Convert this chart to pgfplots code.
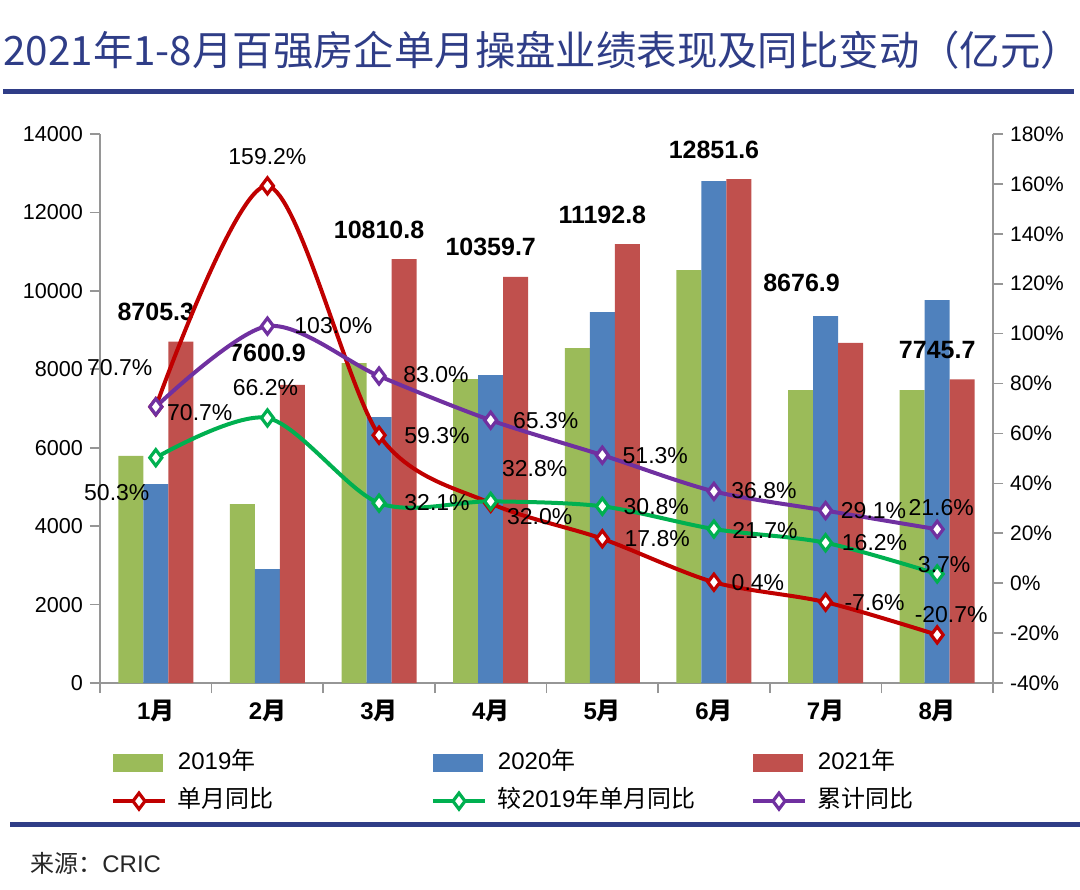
\documentclass[border=0pt]{standalone}
\usepackage{fontspec}
\setmainfont{Liberation Sans}
\newfontfamily\cjk{Noto Sans CJK SC}
\usepackage{pgfplots}
\pgfplotsset{compat=1.18}
\usepackage{pgfplotstable}

\definecolor{cG}{RGB}{155,187,89}
\definecolor{cB}{RGB}{79,129,189}
\definecolor{cR}{RGB}{192,80,77}
\definecolor{lR}{RGB}{192,0,0}
\definecolor{lG}{RGB}{0,176,80}
\definecolor{lP}{RGB}{112,48,160}
\definecolor{tB}{RGB}{47,61,135}
\definecolor{axg}{RGB}{150,150,150}

\newcommand\yue{{\cjk 月}}
\newcommand\nian{{\cjk 年}}

\pgfplotsset{
  linelegend/.style={legend image code/.code={\draw[mark repeat=2,mark phase=2,##1] plot coordinates {(0pt,0pt) (13pt,0pt) (26pt,0pt)};}},
  /pgf/number format/assume math mode=true,
}

\pgfplotstableread{
x y
1 5790
2 4565
3 8160
4 7752
5 8543
6 10532
7 7472
8 7472
}\tGreen
\pgfplotstableread{
x y
1 5075
2 2907
3 6783
4 7854
5 9461
6 12801
7 9359
8 9767
}\tBlue
\pgfplotstableread{
x y dx dy
1 8705.3 0 15
2 7600.9 0 16
3 10810.8 0 14.5
4 10359.7 0 15
5 11192.8 0 14.5
6 12851.6 0 14.5
7 8676.9 -12 30
8 7745.7 0 14.5
}\tRed
\pgfplotstableread{
x y dx dy
1 70.7 -18 19.5
2 159.2 0 14.5
3 59.3 29 0
4 32.0 24.5 -6.5
5 17.8 27.5 0
6 0.4 22 0
7 -7.6 24.5 0
8 -20.7 7 10
}\lRed
\pgfplotstableread{
x y dx dy
1 50.3 -19.5 -17.5
2 66.2 -1 15
3 32.1 29 0.5
4 32.8 22 16.5
5 30.8 27 0
6 21.7 25.5 -0.5
7 16.2 24.5 0
8 3.7 3.5 4.5
}\lGreen
\pgfplotstableread{
x y dx dy
1 70.7 22 -3
2 103.0 33 0.5
3 83.0 28.5 0.5
4 65.3 27.5 0
5 51.3 26.5 0
6 36.8 25 0.5
7 29.1 24 0
8 21.6 2 11
}\lPurple

\begin{document}
\begin{tikzpicture}
\path[use as bounding box] (0,0) rectangle (540pt,-444.5pt);

% title and rules
\node[anchor=west, text=tB, font=\cjk\fontsize{20.2}{23}\selectfont, inner sep=0pt] at (1.5pt,-25pt) {2021年1-8月百强房企单月操盘业绩表现及同比变动（亿元）};
\draw[tB, line width=2.5pt] (1.5pt,-45.5pt) -- (537pt,-45.5pt);
\draw[tB, line width=2.5pt] (5pt,-412pt) -- (540pt,-412pt);
\node[anchor=west, text=black!85, font=\fontsize{12}{14}\selectfont, inner sep=0pt] at (15pt,-431.5pt) {{\cjk 来源：}CRIC};

\begin{axis}[
  at={(50pt,-341.5pt)}, anchor=south west, scale only axis,
  width=446.5pt, height=274.5pt,
  xmin=0.5, xmax=8.5, ymin=0, ymax=14000,
  axis x line*=bottom, axis y line*=left,
  axis line style={-, axg, line width=0.8pt},
  clip=false,
  tick align=outside, major tick length=5pt, minor tick length=5pt,
  xtick={1,...,8},
  xticklabels={1\yue,2\yue,3\yue,4\yue,5\yue,6\yue,7\yue,8\yue},
  minor xtick={0.5,1.5,...,8.5},
  major x tick style={draw=none},
  minor x tick style={axg, line width=0.8pt},
  y tick style={axg, line width=0.8pt},
  ytick={0,2000,...,14000},
  scaled y ticks=false,
  y tick label style={font=\fontsize{10.8}{12}\selectfont, /pgf/number format/1000 sep={}},
  x tick label style={font=\bfseries\fontsize{12}{14}\selectfont},
  legend columns=3,
  legend cell align=left,
  legend style={at={(0.0123,-0.125)}, anchor=north west, draw=none, fill=none,
    inner sep=0pt, outer sep=0pt, font=\fontsize{12}{14}\selectfont, row sep=7.5pt,
    nodes={inner sep=0pt, text width=126.5pt, align=left, text height=9pt, text depth=2.5pt},
    /tikz/every odd column/.append style={column sep=5.5pt}},
]
\addplot[ybar, bar width=12.5pt, bar shift=-12.5pt, fill=cG, draw=none,
  legend image code/.code={\fill[cG] (0pt,-4.5pt) rectangle (25pt,4.5pt);}]
  table[x=x,y=y] {\tGreen};
\addlegendentry{2019\nian}
\addplot[ybar, bar width=12.5pt, bar shift=0pt, fill=cB, draw=none,
  legend image code/.code={\fill[cB] (0pt,-4.5pt) rectangle (25pt,4.5pt);}]
  table[x=x,y=y] {\tBlue};
\addlegendentry{2020\nian}
\addplot[ybar, bar width=12.5pt, bar shift=12.5pt, fill=cR, draw=none,
  legend image code/.code={\fill[cR] (0pt,-4.5pt) rectangle (25pt,4.5pt);},
  point meta=y,
  visualization depends on={\thisrow{dx}\as\ldx},
  visualization depends on={\thisrow{dy}\as\ldy},
  nodes near coords={\pgfmathprintnumber[fixed,fixed zerofill,precision=1,1000 sep={}]{\pgfplotspointmeta}},
  every node near coord/.append style={anchor=center, xshift=\ldx pt, yshift=\ldy pt,
    font=\bfseries\fontsize{12.5}{14}\selectfont, text=black, inner sep=0pt}]
  table[x=x,y=y] {\tRed};
\addlegendentry{2021\nian}
\addlegendimage{lR, line width=2pt, mark=diamond*, mark size=4pt, mark options={solid, fill=white, line width=1.6pt}, linelegend}
\addlegendentry{\cjk 单月同比}
\addlegendimage{lG, line width=2pt, mark=diamond*, mark size=4pt, mark options={solid, fill=white, line width=1.6pt}, linelegend}
\addlegendentry{{\cjk 较}2019{\cjk 年单月同比}}
\addlegendimage{lP, line width=2pt, mark=diamond*, mark size=4pt, mark options={solid, fill=white, line width=1.6pt}, linelegend}
\addlegendentry{\cjk 累计同比}
\end{axis}

\begin{axis}[
  at={(50pt,-341.5pt)}, anchor=south west, scale only axis,
  width=446.5pt, height=274.5pt,
  xmin=0.5, xmax=8.5, ymin=-40, ymax=180,
  axis x line=none, axis y line*=right,
  axis line style={-, axg, line width=0.8pt},
  clip=false,
  tick align=outside, major tick length=5pt,
  y tick style={axg, line width=0.8pt},
  ytick={-40,-20,...,180},
  yticklabel={\pgfmathprintnumber{\tick}\%},
  y tick label style={font=\fontsize{10.5}{12}\selectfont},
  every axis plot/.append style={line width=2pt, smooth, tension=0.5, mark=diamond*, mark size=4pt,
    mark options={solid, fill=white, line width=1.6pt},
    point meta=y,
    visualization depends on={\thisrow{dx}\as\ldx},
    visualization depends on={\thisrow{dy}\as\ldy},
    nodes near coords={\pgfmathprintnumber[fixed,fixed zerofill,precision=1]{\pgfplotspointmeta}\%},
    every node near coord/.append style={anchor=center, xshift=\ldx pt, yshift=\ldy pt,
      font=\fontsize{11.5}{13}\selectfont, text=black, inner sep=0pt}},
]
\addplot[lR] table[x=x,y=y] {\lRed};
\addplot[lG] table[x=x,y=y] {\lGreen};
\addplot[lP] table[x=x,y=y] {\lPurple};
\end{axis}
\end{tikzpicture}
\end{document}
